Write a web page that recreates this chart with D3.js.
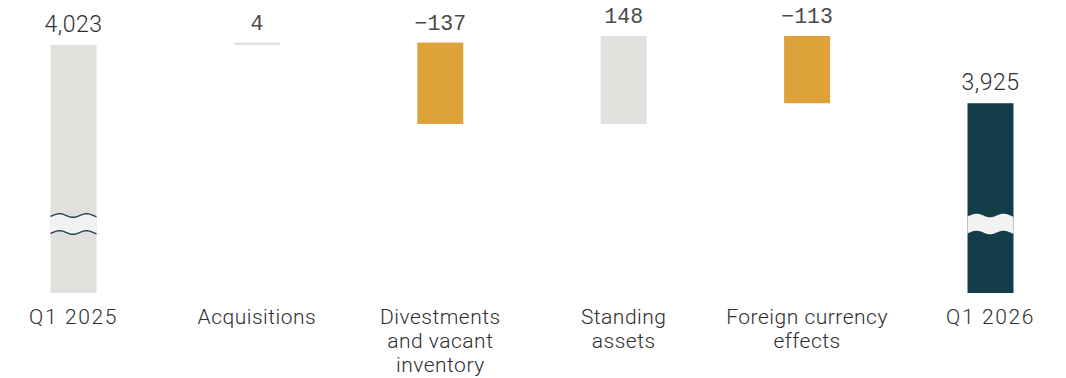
<!DOCTYPE html>
<html>
<head>
<meta charset="utf-8">
<script src="https://cdn.jsdelivr.net/npm/d3@7"></script>
<style>
  html, body { margin: 0; padding: 0; background: #ffffff; }
  svg { display: block; }
</style>
</head>
<body>
<svg id="chart" width="1066" height="378"></svg>
<script>
// Bridge from Q1 2025 to Q1 2026
const categories = ["Q1 2025", "Acquisitions", "Divestments and vacant inventory", "Standing assets", "Foreign currency effects", "Q1 2026"];
const labelLines = [["Q1 2025"], ["Acquisitions"], ["Divestments", "and vacant", "inventory"], ["Standing", "assets"], ["Foreign currency", "effects"], ["Q1 2026"]];
const values = [4023, 4, -137, 148, -113, 3925];
const kinds = ["total", "delta", "delta", "delta", "delta", "total"];

const W = 1066, H = 378;
const baseY = 293;      // bottom of the total bars (broken axis)
const topY = 36;        // highest running level
const barW = 46;

const colors = {
  total: "#e0e0dc",
  totalEnd: "#133d49",
  up: "#e0e0dc",
  down: "#dda23a",
  band: "#f2f2f2",
  wave: "#1d4753",
  text: "#2e2e2e",
  deltaText: "#4a4a4a"
};

// running levels for the waterfall
let level = 0;
const bars = categories.map((c, i) => {
  const v = values[i];
  let lo, hi;
  if (kinds[i] === "total") {
    level = v;
    lo = null; hi = v;
  } else {
    const start = level;
    level = start + v;
    lo = Math.min(start, level);
    hi = Math.max(start, level);
  }
  return { cat: c, value: v, kind: kinds[i], lo, hi, i };
});

const maxLevel = d3.max(bars, d => d.hi);
const axisFloor = 3606; // value shown at the bar base after the break

const x = d3.scalePoint().domain(categories).range([73.5, 990.5]);
const y = d3.scaleLinear().domain([axisFloor, maxLevel]).range([baseY, topY]);

const svg = d3.select("#chart");

const fillFor = d => {
  if (d.kind === "total") return d.i === bars.length - 1 ? colors.totalEnd : colors.total;
  return d.value >= 0 ? colors.up : colors.down;
};

const g = svg.append("g");

g.selectAll("rect.bar")
  .data(bars)
  .join("rect")
  .attr("class", "bar")
  .attr("x", d => x(d.cat) - barW / 2)
  .attr("width", barW)
  .attr("y", d => y(d.hi))
  .attr("height", d => (d.kind === "total" ? baseY : y(d.lo)) - y(d.hi))
  .attr("fill", fillFor);

// axis break across the total bars
const breakY = baseY - 69, breakHalf = 8.5, amp = 1.8, period = 27, phase = 9;
function wave(x0, x1, yc) {
  const pts = [];
  for (let xx = x0; xx <= x1 + 0.01; xx += 1) {
    pts.push([xx, yc - amp * Math.cos(2 * Math.PI * (xx - x0 - phase) / period)]);
  }
  return pts;
}
bars.filter(d => d.kind === "total").forEach(d => {
  const x0 = x(d.cat) - barW / 2, x1 = x(d.cat) + barW / 2;
  const top = wave(x0, x1, breakY - breakHalf);
  const bot = wave(x0, x1, breakY + breakHalf);
  const line = d3.line();
  g.append("path")
    .attr("d", line(top.concat(bot.slice().reverse())) + "Z")
    .attr("fill", colors.band);
  if (d.i === 0) {
    [top, bot].forEach(p => g.append("path")
      .attr("d", line(p))
      .attr("fill", "none")
      .attr("stroke", colors.wave)
      .attr("stroke-width", 1.4));
  }
});

// value labels
const fmt = d3.format(",");
g.selectAll("text.val")
  .data(bars)
  .join("text")
  .attr("class", "val")
  .attr("x", d => x(d.cat))
  .attr("y", d => y(d.hi) - 13)
  .attr("text-anchor", "middle")
  .attr("fill", d => d.kind === "total" ? colors.text : colors.deltaText)
  .style("font-family", d => d.kind === "total" ? "Roboto, 'Liberation Sans', Arial, sans-serif" : "'Liberation Mono', 'DejaVu Sans Mono', monospace")
  .style("font-weight", d => d.kind === "total" ? 300 : 400)
  .style("font-size", d => d.kind === "total" ? "23px" : "21.5px")
  .style("letter-spacing", d => d.kind === "total" ? "0.5px" : "0px")
  .text(d => fmt(d.value));

// category labels
const cat = g.selectAll("text.cat")
  .data(bars)
  .join("text")
  .attr("class", "cat")
  .attr("x", d => x(d.cat))
  .attr("y", 324)
  .attr("text-anchor", "middle")
  .attr("fill", colors.text)
  .style("font-family", "Roboto, 'Liberation Sans', Arial, sans-serif")
  .style("font-weight", 300)
  .style("font-size", "21px")
  .style("letter-spacing", d => d.kind === "total" ? "1.6px" : "0.5px");
cat.selectAll("tspan")
  .data(d => labelLines[d.i].map(t => ({ t, x: x(d.cat) })))
  .join("tspan")
  .attr("x", t => t.x)
  .attr("dy", (t, j) => j === 0 ? 0 : 24)
  .text(t => t.t);
</script>
</body>
</html>
